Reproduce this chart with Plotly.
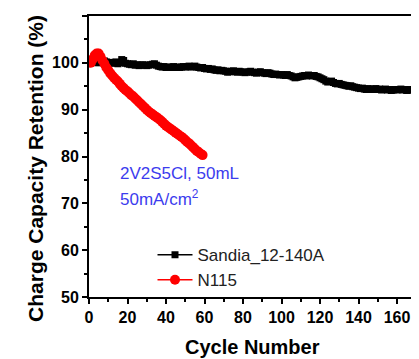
import plotly.graph_objects as go

# ---- data ----
sandia_cycles = list(range(1, 171))
sandia_retention = [
    100.0, 100.2, 100.1, 100.3, 100.0, 100.2, 100.1, 100.4, 100.2, 100.0,
    100.1, 99.9, 100.0, 100.2, 99.8, 100.0, 100.7, 100.5, 99.9, 99.8,
    99.7, 99.6, 99.8, 99.5, 99.6, 99.4, 99.5, 99.6, 99.5, 99.4,
    99.5, 99.6, 99.7, 99.8, 99.5, 99.3, 99.2, 99.1, 99.2, 99.0,
    99.1, 99.0, 99.1, 99.2, 99.0, 99.1, 99.0, 99.1, 99.2, 99.1,
    99.2, 99.3, 99.1, 99.2, 99.3, 99.1, 99.0, 98.9, 99.0, 98.8,
    98.7, 98.8, 98.6, 98.7, 98.5, 98.4, 98.5, 98.3, 98.4, 98.3,
    98.2, 98.0, 98.1, 98.2, 98.3, 98.1, 98.0, 98.2, 98.1, 98.0,
    97.9, 98.0, 98.1, 98.2, 98.0, 97.9, 97.8, 98.0, 98.1, 97.9,
    97.8, 97.7, 97.9, 97.8, 97.6, 97.5, 97.6, 97.5, 97.4, 97.5,
    97.4, 97.3, 97.5, 97.3, 97.2, 97.0, 96.8, 96.9, 97.0, 97.1,
    97.2, 97.3, 97.2, 97.4, 97.3, 97.2, 97.3, 97.1, 97.0, 96.8,
    96.6, 96.4, 96.1, 95.9, 96.0, 96.1, 95.8, 95.6, 95.5, 95.6,
    95.4, 95.3, 95.2, 95.1, 95.0, 95.1, 94.9, 94.8, 94.7, 94.6,
    94.5, 94.6, 94.4, 94.3, 94.5, 94.4, 94.3, 94.4, 94.5, 94.3,
    94.4, 94.2, 94.3, 94.4, 94.2, 94.3, 94.1, 94.2, 94.3, 94.2,
    94.3, 94.4, 94.2, 94.3, 94.1, 94.2, 94.3, 94.2, 94.1, 94.2,
]

n115_cycles = list(range(1, 60))
n115_retention = [
    100.0, 100.8, 101.6, 102.0, 102.0, 101.3, 100.5, 99.8, 99.0, 98.4,
    97.8, 97.3, 96.8, 96.4, 96.0, 95.5, 95.0, 94.6, 94.2, 93.9,
    93.5, 93.1, 92.8, 92.4, 92.0, 91.6, 91.2, 90.8, 90.4, 90.0,
    89.6, 89.3, 89.0, 88.7, 88.4, 88.1, 87.8, 87.4, 87.0, 86.6,
    86.3, 86.0, 85.7, 85.4, 85.1, 84.8, 84.5, 84.2, 83.9, 83.5,
    83.1, 82.8, 82.4, 82.0, 81.6, 81.2, 80.9, 80.6, 80.3,
]

x_ticks = [0, 20, 40, 60, 80, 100, 120, 140, 160]
y_ticks = [50, 60, 70, 80, 90, 100, 110]

FONT = "Arial, Liberation Sans, Helvetica, sans-serif"

fig = go.Figure()
fig.add_trace(go.Scatter(
    x=sandia_cycles, y=sandia_retention, name="Sandia_12-140A",
    mode="lines+markers",
    line=dict(color="black", width=1.5),
    marker=dict(symbol="square", size=7, color="black"),
))
fig.add_trace(go.Scatter(
    x=n115_cycles, y=n115_retention, name="N115",
    mode="lines+markers",
    line=dict(color="red", width=1.5),
    marker=dict(symbol="circle", size=10, color="red"),
))

# condition label (two lines)
fig.add_annotation(
    x=15, y=76.3, xref="x", yref="y", xanchor="left", yanchor="middle",
    text="2V2S5Cl, 50mL", showarrow=False,
    font=dict(family=FONT, size=17, color="#3c3cee"),
)
fig.add_annotation(
    x=15, y=71.1, xref="x", yref="y", xanchor="left", yanchor="middle",
    text="50mA/cm<sup>2</sup>", showarrow=False,
    font=dict(family=FONT, size=17, color="#3c3cee"),
)

# axis titles
fig.add_annotation(
    x=-0.167, y=0.459, xref="paper", yref="paper", xanchor="center", yanchor="middle",
    text="<b>Charge Capacity Retention (%)</b>", textangle=-90, showarrow=False,
    font=dict(family=FONT, size=21, color="black"),
)
fig.add_annotation(
    x=0.505, y=-0.178, xref="paper", yref="paper", xanchor="center", yanchor="middle",
    text="<b>Cycle Number</b>", showarrow=False,
    font=dict(family=FONT, size=20, color="black"),
)

axis_common = dict(
    showline=True, linecolor="black", linewidth=2, mirror=True,
    ticks="outside", ticklen=5, tickwidth=1.5, tickcolor="black",
    showgrid=False, zeroline=False, automargin=False,
    tickfont=dict(family=FONT, size=16, color="black", weight="bold"),
)

fig.update_xaxes(
    **axis_common, range=[0, 168.3], tickvals=x_ticks,
    minor=dict(dtick=10, tick0=0, ticks="outside", ticklen=3, tickcolor="black"),
)
fig.update_yaxes(
    **axis_common, range=[50, 110], tickvals=y_ticks,
    minor=dict(dtick=5, tick0=50, ticks="outside", ticklen=3, tickcolor="black"),
)

fig.update_layout(
    width=411, height=351,
    margin=dict(l=81, r=6, t=8, b=62),
    paper_bgcolor="white", plot_bgcolor="white",
    showlegend=True,
    legend=dict(x=0.196, y=0.213, xanchor="left", yanchor="top",
                bgcolor="rgba(0,0,0,0)", itemwidth=35, tracegroupgap=0,
                font=dict(family=FONT, size=17, color="#222")),
)

fig.write_html("out.html")
